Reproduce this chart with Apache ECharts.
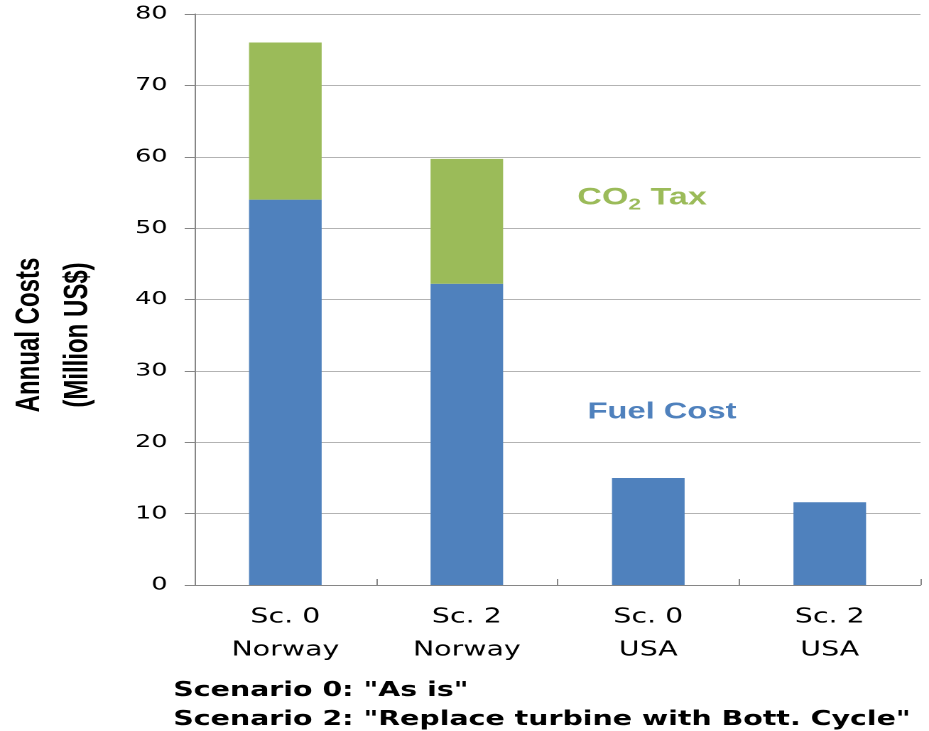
<!DOCTYPE html>
<html>
<head>
<meta charset="utf-8">
<script src="https://cdn.jsdelivr.net/npm/echarts@6/dist/echarts.min.js"></script>
<style>
	html, body { margin: 0; padding: 0; background: #fff; overflow: hidden; }
	/* the reference picture is stretched sideways, so the chart is drawn narrow and scaled */
	#chart { width: 654px; height: 731px; transform: scaleX(1.4205); transform-origin: 0 0; }
</style>
</head>
<body>
<div id="chart"></div>
<script>
var categories = ['Sc. 0\nNorway', 'Sc. 2\nNorway', 'Sc. 0\nUSA', 'Sc. 2\nUSA']
var fuelCost   = [54, 42.2, 15, 11.6]		// blue part
var co2Tax     = [22, 17.5, '-', '-']		// green part, stacked on top
var yMin = 0, yMax = 80, yStep = 10
var notes = ['Scenario 0: "As is"', 'Scenario 2: "Replace turbine with Bott. Cycle"']

var blue  = '#4f81bd'
var green = '#9bbb59'

var chart = echarts.init(document.getElementById('chart'), null, { devicePixelRatio: 2 })

var option = {}
option.animation = false
option.backgroundColor = '#fff'

option.grid = {
	left: 137,
	right: 6,
	top: 14,
	bottom: 146
}

option.xAxis = {
	type: 'category',
	data: categories,
	axisLine: { lineStyle: { color: '#868686', width: 1 } },
	axisTick: { show: true, inside: true, length: 6, lineStyle: { color: '#868686' } },
	axisLabel: {
		margin: 16,
		fontFamily: 'DejaVu Sans',
		fontSize: 20,
		lineHeight: 33,
		color: '#000'
	},
	splitLine: { show: false }
}

option.yAxis = {
	type: 'value',
	min: yMin,
	max: yMax,
	interval: yStep,
	axisLine: { show: true, lineStyle: { color: '#868686', width: 1 } },
	axisTick: { show: true, length: 7, lineStyle: { color: '#868686' } },
	axisLabel: {
		margin: 19,
		fontFamily: 'DejaVu Sans',
		fontSize: 18,
		color: '#000'
	},
	splitLine: { show: true, lineStyle: { color: '#b3b3b3', width: 1 } }
}

option.series = [{
	name: 'Fuel Cost',
	type: 'bar',
	stack: 'cost',
	barWidth: '40%',
	itemStyle: { color: blue },
	data: fuelCost
}, {
	name: 'CO2 Tax',
	type: 'bar',
	stack: 'cost',
	barWidth: '40%',
	itemStyle: { color: green },
	data: co2Tax
}]

// texts written on the chart
option.graphic = [{
	// y axis title, two lines
	type: 'text',
	x: 38,
	y: 335,
	rotation: Math.PI / 2,
	style: {
		text: 'Annual Costs\n(Million US$)',
		fontFamily: 'Liberation Sans',
		fontWeight: 'bold',
		fontSize: 24,
		lineHeight: 34,
		fill: '#000',
		align: 'center',
		verticalAlign: 'middle'
	}
}, {
	type: 'text',
	x: 452,
	y: 198,
	style: {
		text: '{a|CO}{s|2}{a| Tax}',
		align: 'center',
		verticalAlign: 'middle',
		rich: {
			a: { fontFamily: 'Liberation Sans', fontWeight: 'bold', fontSize: 24, lineHeight: 30, fill: green, verticalAlign: 'middle' },
			s: { fontFamily: 'Liberation Sans', fontWeight: 'bold', fontSize: 16, lineHeight: 30, fill: green, verticalAlign: 'bottom' }
		}
	}
}, {
	type: 'text',
	x: 466,
	y: 412,
	style: {
		text: 'Fuel Cost',
		fontFamily: 'Liberation Sans',
		fontWeight: 'bold',
		fontSize: 23,
		fill: blue,
		align: 'center',
		verticalAlign: 'middle'
	}
}, {
	type: 'text',
	x: 122,
	y: 691,
	style: {
		text: notes[0],
		fontFamily: 'DejaVu Sans',
		fontWeight: 'bold',
		fontSize: 20,
		fill: '#000',
		align: 'left',
		verticalAlign: 'middle'
	}
}, {
	type: 'text',
	x: 122,
	y: 720,
	style: {
		text: notes[1],
		fontFamily: 'DejaVu Sans',
		fontWeight: 'bold',
		fontSize: 20,
		fill: '#000',
		align: 'left',
		verticalAlign: 'middle'
	}
}]

chart.setOption(option)
</script>
</body>
</html>
